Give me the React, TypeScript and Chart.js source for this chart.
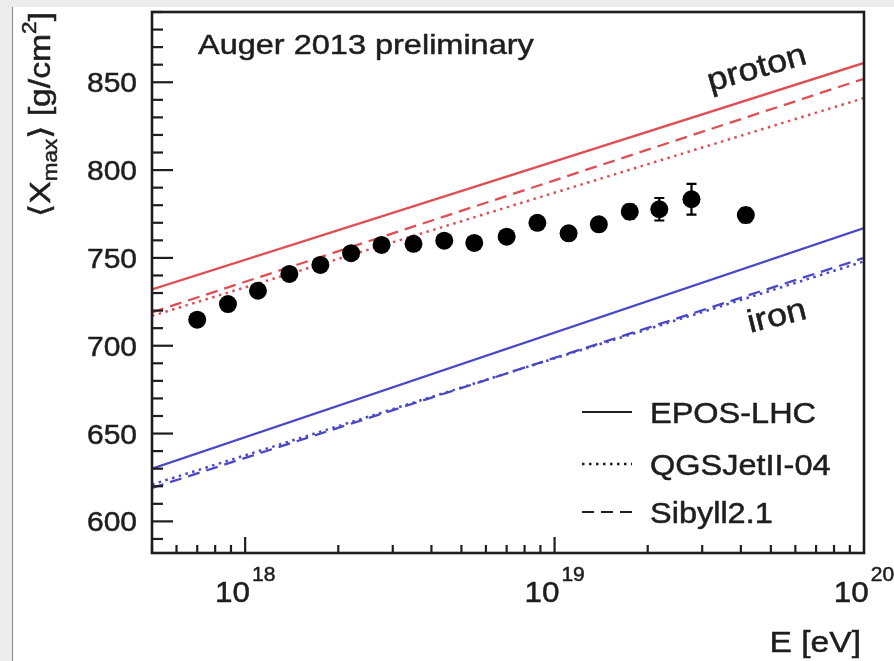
import React, { useEffect, useRef } from "react";
import { Chart, registerables } from "chart.js";

Chart.register(...registerables);

// ---- data ----
const energies = [7.0e17, 8.8e17, 1.1e18, 1.39e18, 1.75e18, 2.2e18, 2.76e18, 3.5e18, 4.4e18, 5.5e18, 7.0e18, 8.8e18, 1.11e19, 1.39e19, 1.75e19, 2.18e19, 2.77e19, 4.15e19];
const xmaxMean = [714.8, 723.7, 731.3, 740.9, 746.0, 752.7, 757.4, 758.0, 759.8, 758.5, 762.1, 770.0, 764.0, 769.1, 776.3, 777.7, 783.4, 774.4];
const xmaxErr = [2.5, 2.5, 2.5, 2.5, 2.5, 2.5, 2.5, 2.5, 2.5, 2.5, 3, 3, 3.5, 3.5, 4, 6.4, 8.8, 4];

const modelEnergies = [5e17, 1e20];
const protonEPOS = [732, 861];
const protonQGSJet = [717, 841];
const protonSibyll = [719, 852];
const ironEPOS = [630, 767];
const ironQGSJet = [621, 748];
const ironSibyll = [619, 750];

const yTickValues = [600, 650, 700, 750, 800, 850];
const xTickValues = [1e18, 1e19, 1e20];
const xTickExponents = ["18", "19", "20"];
const legendLabels = ["EPOS-LHC", "QGSJetII-04", "Sibyll2.1"];

// ---- styles ----
const FONT = '"Liberation Sans", Arial, "DejaVu Sans", sans-serif';
const INK = "#1e1e1e";
const RED = "#de4e52";
const BLUE = "#4a48c6";
const DASH_SOLID: number[] = [];
const DASH_DOTTED = [2.5, 4.5];
const DASH_DASHED = [12, 7];
const legendDashes = [DASH_SOLID, DASH_DOTTED, DASH_DASHED];
const SX = 1.12; // horizontal stretch of the original figure's lettering

const pts = (ys: number[]) => modelEnergies.map((x, i) => ({ x, y: ys[i] }));

const modelLine = (label: string, ys: number[], color: string, dash: number[]) => ({
  type: "line" as const,
  label,
  data: pts(ys),
  borderColor: color,
  borderWidth: dash === DASH_DOTTED ? 2.5 : 2.3,
  borderDash: dash,
  pointRadius: 0,
  showLine: true,
  fill: false,
  tension: 0,
});

function stretchText(
  ctx: CanvasRenderingContext2D,
  t: string,
  x: number,
  y: number,
  font: string,
  align: CanvasTextAlign,
  baseline: CanvasTextBaseline,
  sx: number,
  angleDeg = 0
) {
  ctx.save();
  ctx.translate(x, y);
  if (angleDeg) ctx.rotate((angleDeg * Math.PI) / 180);
  ctx.scale(sx, 1);
  ctx.font = font;
  ctx.textAlign = align;
  ctx.textBaseline = baseline;
  ctx.lineWidth = 0.5;
  ctx.lineJoin = "round";
  ctx.fillText(t, 0, 0);
  ctx.strokeText(t, 0, 0);
  ctx.restore();
}

const overlay = {
  id: "overlay",
  beforeDatasetsDraw(chart: any) {
    const ctx = chart.ctx;
    const xs = chart.scales.x;
    const ys = chart.scales.y;
    ctx.save();
    ctx.strokeStyle = "#000";
    ctx.lineWidth = 2.2;
    energies.forEach((e, i) => {
      const px = xs.getPixelForValue(e);
      const top = ys.getPixelForValue(xmaxMean[i] + xmaxErr[i]);
      const bot = ys.getPixelForValue(xmaxMean[i] - xmaxErr[i]);
      ctx.beginPath();
      ctx.moveTo(px, top);
      ctx.lineTo(px, bot);
      ctx.moveTo(px - 5, top);
      ctx.lineTo(px + 5, top);
      ctx.moveTo(px - 5, bot);
      ctx.lineTo(px + 5, bot);
      ctx.stroke();
    });
    ctx.restore();
  },
  afterDraw(chart: any) {
    const ctx: CanvasRenderingContext2D = chart.ctx;
    const { left, right, top, bottom } = chart.chartArea;
    const xs = chart.scales.x;
    const ys = chart.scales.y;
    ctx.save();
    ctx.strokeStyle = INK;
    ctx.fillStyle = INK;
    ctx.setLineDash([]);

    // y ticks (inside)
    ctx.lineWidth = 2.2;
    for (let v = Math.ceil(ys.min / 10) * 10; v <= ys.max; v += 10) {
      const py = ys.getPixelForValue(v);
      const len = v % 50 === 0 ? 21 : 11;
      ctx.beginPath();
      ctx.moveTo(left, py);
      ctx.lineTo(left + len, py);
      ctx.stroke();
    }
    // x ticks (inside)
    for (let d = 17; d <= 19; d++) {
      for (let m = 1; m <= 9; m++) {
        const v = m * Math.pow(10, d);
        if (v < xs.min || v > xs.max) continue;
        const px = xs.getPixelForValue(v);
        const len = m === 1 ? 16 : 8;
        ctx.beginPath();
        ctx.moveTo(px, bottom);
        ctx.lineTo(px, bottom - len);
        ctx.stroke();
      }
    }
    // frame
    ctx.lineWidth = 2.6;
    ctx.strokeRect(left, top, right - left, bottom - top);

    // y tick labels
    yTickValues.forEach((v) => {
      const py = ys.getPixelForValue(v);
      stretchText(ctx, String(v), left - 15, py + 10, `28px ${FONT}`, "right", "alphabetic", 1.07);
    });

    // x tick labels with superscripts
    xTickValues.forEach((v, i) => {
      const px = xs.getPixelForValue(v);
      ctx.font = `30px ${FONT}`;
      const w1 = ctx.measureText("10").width * 1.05;
      ctx.font = `20px ${FONT}`;
      const w2 = ctx.measureText(xTickExponents[i]).width * 1.05;
      const x0 = px - (w1 + w2 + 2) / 2;
      stretchText(ctx, "10", x0, 602, `30px ${FONT}`, "left", "alphabetic", 1.05);
      stretchText(ctx, xTickExponents[i], x0 + w1 + 2, 581, `20px ${FONT}`, "left", "alphabetic", 1.05);
    });

    // x title
    stretchText(ctx, "E [eV]", 861, 652, `30px ${FONT}`, "right", "alphabetic", SX);

    // annotation
    stretchText(ctx, "Auger 2013 preliminary", 198, 54, `28px ${FONT}`, "left", "alphabetic", 1.16);

    // rotated labels
    stretchText(ctx, "proton", 757, 69, `32px ${FONT}`, "center", "middle", SX, -16);
    stretchText(ctx, "iron", 777, 317, `32px ${FONT}`, "center", "middle", SX, -14);

    // legend
    const rowsY = [412, 464, 512];
    legendLabels.forEach((lab, i) => {
      ctx.save();
      ctx.strokeStyle = INK;
      ctx.lineWidth = legendDashes[i] === DASH_DOTTED ? 2.5 : 2.2;
      ctx.setLineDash(legendDashes[i]);
      ctx.beginPath();
      ctx.moveTo(582, rowsY[i]);
      ctx.lineTo(632, rowsY[i]);
      ctx.stroke();
      ctx.restore();
      stretchText(ctx, lab, 650, rowsY[i] + 11, `29px ${FONT}`, "left", "alphabetic", SX);
    });

    // y title (rotated)
    const big = `30px ${FONT}`;
    const small = `20px ${FONT}`;
    const parts = [
      { t: "\u27E8X", f: big, dy: 0 },
      { t: "max", f: small, dy: 7 },
      { t: "\u27E9 [g/cm", f: big, dy: 0 },
      { t: "2", f: small, dy: -14 },
      { t: "]", f: big, dy: 0 },
    ];
    let total = 0;
    parts.forEach((p) => {
      ctx.font = p.f;
      total += ctx.measureText(p.t).width;
    });
    const sy = 205 / total;
    ctx.save();
    ctx.translate(50, 217);
    ctx.rotate(-Math.PI / 2);
    ctx.scale(sy, 1);
    ctx.textAlign = "left";
    ctx.textBaseline = "alphabetic";
    ctx.lineWidth = 0.5;
    let x = 0;
    parts.forEach((p) => {
      ctx.font = p.f;
      ctx.fillText(p.t, x, p.dy);
      ctx.strokeText(p.t, x, p.dy);
      x += ctx.measureText(p.t).width;
    });
    ctx.restore();

    ctx.restore();
  },
};

export default function App() {
  const ref = useRef<HTMLCanvasElement | null>(null);
  useEffect(() => {
    if (!ref.current) return;
    const chart = new Chart(ref.current, {
      type: "scatter",
      data: {
        datasets: [
          {
            type: "scatter",
            label: "Auger 2013",
            data: energies.map((e, i) => ({ x: e, y: xmaxMean[i] })),
            pointRadius: 9,
            pointHoverRadius: 9,
            pointBackgroundColor: "#000",
            pointBorderColor: "#000",
            pointBorderWidth: 0,
          } as any,
          modelLine("proton EPOS-LHC", protonEPOS, RED, DASH_SOLID),
          modelLine("proton QGSJetII-04", protonQGSJet, RED, DASH_DOTTED),
          modelLine("proton Sibyll2.1", protonSibyll, RED, DASH_DASHED),
          modelLine("iron EPOS-LHC", ironEPOS, BLUE, DASH_SOLID),
          modelLine("iron QGSJetII-04", ironQGSJet, BLUE, DASH_DOTTED),
          modelLine("iron Sibyll2.1", ironSibyll, BLUE, DASH_DASHED),
        ],
      },
      options: {
        animation: false,
        responsive: false,
        devicePixelRatio: 1,
        events: [],
        layout: { padding: { left: 0, top: 12, right: 30, bottom: 0 } },
        plugins: {
          legend: { display: false },
          tooltip: { enabled: false },
          title: { display: false },
        },
        scales: {
          x: {
            type: "logarithmic",
            min: 5e17,
            max: 1e20,
            grid: { display: false, drawTicks: false },
            border: { display: false },
            ticks: { display: false },
            afterBuildTicks: (s: any) => {
              s.ticks = xTickValues.map((v) => ({ value: v }));
            },
            afterFit: (s: any) => {
              s.height = 108;
              s.paddingLeft = 0;
              s.paddingRight = 0;
            },
          },
          y: {
            type: "linear",
            min: 582,
            max: 890,
            grid: { display: false, drawTicks: false },
            border: { display: false },
            ticks: { display: false },
            afterBuildTicks: (s: any) => {
              s.ticks = yTickValues.map((v) => ({ value: v }));
            },
            afterFit: (s: any) => {
              s.width = 152;
              s.paddingTop = 0;
              s.paddingBottom = 0;
            },
          },
        },
      } as any,
      plugins: [overlay],
    });
    return () => chart.destroy();
  }, []);

  return (
    <div
      style={{
        position: "fixed",
        left: 0,
        top: 0,
        width: 894,
        height: 661,
        overflow: "hidden",
        background: "#ececec",
      }}
    >
      <div
        style={{
          position: "absolute",
          left: 12,
          top: 7,
          right: 0,
          bottom: 0,
          background: "#fff",
          borderLeft: "1px solid #888",
        }}
      />
      <canvas
        ref={ref}
        width={894}
        height={661}
        style={{ position: "absolute", left: 0, top: 0, width: 894, height: 661 }}
      />
    </div>
  );
}
